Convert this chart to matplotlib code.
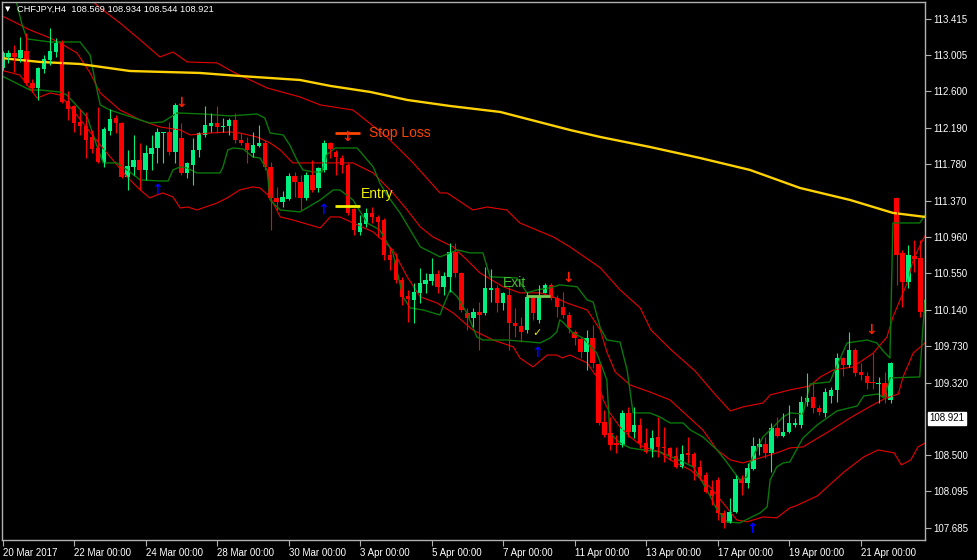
import matplotlib
matplotlib.use("Agg")
import matplotlib.pyplot as plt
from matplotlib.transforms import blended_transform_factory

# CHFJPY H4 candles, bar 0 = 20 Mar 2017 00:00
opens = [112.863, 112.987, 113.032, 112.976, 113.055, 112.694, 112.638, 112.852, 112.953, 113.043,
         113.156, 112.492, 112.435, 112.255, 112.210, 112.086, 111.962, 111.805, 112.154, 112.300,
         112.244, 111.636, 111.749, 111.828, 111.715, 111.895, 111.962, 112.131, 112.143, 111.917,
         112.075, 111.681, 111.771, 111.940, 112.109, 112.210, 112.244, 112.199, 112.210, 112.278,
         112.053, 112.019, 111.906, 111.985, 112.019, 111.749, 111.400, 111.354, 111.389, 111.647,
         111.580, 111.400, 111.659, 111.512, 111.715, 112.019, 111.917, 111.850, 111.771, 111.276,
         111.017, 111.107, 111.231, 111.186, 111.152, 110.759, 110.703, 110.478, 110.298, 110.251,
         110.331, 110.433, 110.466, 110.545, 110.399, 110.511, 110.792, 110.556, 110.105, 110.048,
         110.116, 110.105, 110.365, 110.388, 110.217, 110.309, 109.992, 109.958, 109.913, 110.286,
         110.026, 110.331, 110.421, 110.275, 110.172, 110.082, 109.891, 109.812, 109.666, 109.823,
         109.530, 108.877, 108.754, 108.641, 108.619, 108.979, 108.765, 108.844, 108.641, 108.562,
         108.709, 108.596, 108.585, 108.495, 108.371, 108.529, 108.517, 108.371, 108.281, 108.112,
         108.224, 107.853, 107.740, 107.864, 108.236, 108.191, 108.348, 108.596, 108.630, 108.529,
         108.810, 108.720, 108.765, 108.844, 108.844, 109.102, 109.159, 109.035, 108.979, 109.170,
         109.238, 109.598, 109.519, 109.688, 109.440, 109.395, 109.328, 109.305, 109.316, 109.125,
         111.400, 110.781, 110.455, 110.747, 110.725, 110.105]
highs = [113.055, 113.066, 113.122, 113.212, 113.257, 112.739, 112.875, 113.010, 113.314, 113.201,
         113.179, 112.604, 112.447, 112.402, 112.368, 112.165, 112.424, 112.199, 112.402, 112.334,
         112.255, 111.940, 112.109, 112.019, 111.996, 112.109, 112.188, 112.143, 112.255, 112.469,
         112.244, 111.805, 112.075, 112.143, 112.435, 112.357, 112.435, 112.300, 112.300, 112.357,
         112.131, 112.086, 112.143, 112.221, 112.053, 111.805, 111.524, 111.479, 111.681, 111.692,
         111.659, 111.692, 111.828, 111.749, 112.053, 112.030, 111.940, 111.884, 111.794, 111.287,
         111.208, 111.287, 111.298, 111.208, 111.174, 110.849, 110.781, 110.511, 110.365, 110.444,
         110.613, 110.556, 110.725, 110.590, 110.568, 110.893, 110.893, 110.568, 110.161, 110.161,
         110.228, 110.624, 110.602, 110.421, 110.343, 110.399, 110.161, 110.060, 110.343, 110.309,
         110.421, 110.444, 110.444, 110.309, 110.343, 110.116, 109.913, 109.834, 109.913, 109.970,
         109.542, 109.012, 108.934, 108.731, 109.012, 109.046, 109.046, 108.922, 108.810, 108.787,
         108.934, 108.821, 108.596, 108.596, 108.619, 108.709, 108.540, 108.450, 108.315, 108.224,
         108.258, 107.887, 108.022, 108.281, 108.281, 108.416, 108.709, 108.697, 108.709, 108.866,
         108.934, 108.979, 109.069, 108.922, 109.170, 109.429, 109.328, 109.069, 109.260, 109.271,
         109.654, 109.609, 109.891, 109.711, 109.542, 109.440, 109.654, 109.384, 109.440, 109.553,
         111.411, 110.815, 110.871, 110.927, 110.927, 110.331]
lows = [112.841, 112.920, 112.818, 112.931, 112.672, 112.593, 112.503, 112.807, 112.897, 112.987,
        112.469, 112.278, 112.143, 112.109, 111.850, 111.906, 111.794, 111.749, 112.109, 112.131,
        111.625, 111.490, 111.659, 111.490, 111.602, 111.715, 111.794, 111.794, 111.884, 111.794,
        111.659, 111.625, 111.546, 111.861, 112.086, 112.143, 112.131, 112.143, 112.109, 112.019,
        111.996, 111.794, 111.861, 111.974, 111.715, 111.039, 111.264, 111.298, 111.377, 111.411,
        111.264, 111.377, 111.467, 111.467, 111.692, 111.850, 111.659, 111.681, 111.208, 110.983,
        110.983, 111.073, 111.118, 110.961, 110.703, 110.590, 110.444, 110.195, 110.003, 109.992,
        110.217, 110.331, 110.421, 110.331, 110.309, 110.343, 110.511, 110.116, 109.913, 109.947,
        109.688, 110.082, 110.228, 110.116, 110.138, 109.688, 109.834, 109.778, 109.879, 110.026,
        109.992, 110.331, 110.251, 110.060, 110.048, 109.879, 109.744, 109.598, 109.463, 109.485,
        108.844, 108.709, 108.562, 108.529, 108.596, 108.709, 108.697, 108.585, 108.529, 108.484,
        108.484, 108.427, 108.450, 108.360, 108.360, 108.416, 108.224, 108.224, 108.078, 107.943,
        107.774, 107.684, 107.740, 107.853, 108.056, 108.134, 108.337, 108.506, 108.472, 108.315,
        108.709, 108.709, 108.754, 108.821, 108.810, 109.057, 108.979, 108.956, 108.934, 109.091,
        109.102, 109.395, 109.497, 109.395, 109.350, 109.249, 109.249, 109.091, 109.091, 109.091,
        110.421, 110.172, 110.388, 110.568, 110.060, 110.048]
closes = [113.032, 113.032, 112.987, 113.066, 112.694, 112.638, 112.863, 112.965, 113.055, 113.145,
          112.480, 112.402, 112.244, 112.210, 112.053, 111.951, 111.805, 112.176, 112.289, 112.244,
          111.636, 111.760, 111.828, 111.715, 111.906, 111.962, 112.143, 112.143, 111.917, 112.447,
          111.681, 111.794, 111.940, 112.131, 112.221, 112.244, 112.199, 112.210, 112.278, 112.053,
          112.019, 111.940, 111.996, 112.019, 111.749, 111.400, 111.354, 111.411, 111.647, 111.580,
          111.400, 111.659, 111.490, 111.737, 112.019, 111.951, 111.861, 111.771, 111.231, 111.039,
          111.118, 111.231, 111.186, 111.129, 110.759, 110.703, 110.478, 110.286, 110.264, 110.343,
          110.444, 110.478, 110.545, 110.399, 110.523, 110.792, 110.556, 110.138, 110.048, 110.116,
          110.082, 110.388, 110.388, 110.217, 110.331, 109.992, 109.958, 109.891, 110.286, 110.105,
          110.286, 110.421, 110.275, 110.172, 110.082, 109.936, 109.823, 109.666, 109.823, 109.542,
          108.866, 108.731, 108.619, 108.619, 108.979, 108.765, 108.844, 108.641, 108.540, 108.697,
          108.596, 108.585, 108.495, 108.371, 108.517, 108.506, 108.371, 108.270, 108.089, 108.044,
          107.853, 107.740, 107.864, 108.236, 108.191, 108.360, 108.607, 108.630, 108.529, 108.810,
          108.720, 108.765, 108.866, 108.866, 109.102, 109.148, 109.035, 108.990, 109.215, 109.238,
          109.598, 109.519, 109.688, 109.429, 109.406, 109.316, 109.316, 109.316, 109.159, 109.542,
          110.759, 110.455, 110.759, 110.714, 110.116, 110.251]

# indicator lines, read as (bar, price) vertices
ma_x = [-0.4, 6.3, 13.0, 21.4, 33.1, 39.8, 49.9, 55.0, 61.7, 67.9, 75.1, 83.5, 95.2, 100.3,
        108.6, 117.0, 125.4, 133.8, 142.2, 149.4, 154.8]
ma_y = [112.976, 112.931, 112.908, 112.829, 112.807, 112.773, 112.728, 112.661, 112.593, 112.503,
        112.435, 112.368, 112.165, 112.086, 111.974, 111.850, 111.715, 111.512, 111.377, 111.231, 111.186]

up_x = [14.3, 16.4, 19.7, 23.1, 26.4, 28.6, 31.0, 36.0, 38.7, 44.4, 49.9, 53.3, 58.8, 64.5, 68.9,
        73.4, 74.6, 78.9, 81.3, 84.6, 86.8, 92.4, 95.2, 100.3, 103.6, 107.0, 108.8, 112.2, 116.2,
        119.5, 122.1, 124.2, 127.6, 128.8, 132.1, 135.5, 137.2, 139.4, 142.7, 146.1, 148.4, 149.4,
        151.8, 152.8, 154.4, 154.8]
up_y = [113.663, 113.539, 113.370, 113.179, 112.987, 113.043, 112.931, 112.920, 112.818, 112.638,
        112.537, 112.447, 112.390, 112.086, 111.794, 111.456, 111.456, 111.264, 111.298, 111.264,
        111.118, 110.961, 110.849, 110.613, 110.365, 110.161, 109.913, 109.688, 109.451, 109.192,
        109.001, 109.046, 109.091, 109.181, 109.238, 109.283, 109.384, 109.463, 109.497, 109.654,
        109.834, 110.060, 110.444, 110.703, 110.927, 110.972]

mid_x = [-0.4, 1.3, 4.6, 8.0, 10.2, 12.5, 14.7, 16.4, 19.7, 23.1, 26.4, 29.8, 31.5, 34.8, 38.2,
         39.8, 42.7, 44.9, 46.6, 48.7, 53.3, 58.8, 62.2, 65.5, 67.9, 70.1, 72.2, 75.6, 77.9, 80.1,
         84.0, 86.8, 90.2, 92.4, 94.7, 98.1, 100.3, 101.4, 102.8, 105.3, 108.6, 112.0, 114.2, 117.5,
         119.9, 122.1, 124.2, 127.1, 129.9, 132.1, 134.3, 138.8, 142.2, 145.7, 147.9, 150.3, 151.1,
         152.8, 154.8]
mid_y = [113.460, 113.404, 113.291, 113.201, 113.122, 113.032, 112.807, 112.582, 112.390, 112.278,
         112.199, 112.165, 112.109, 112.131, 112.143, 112.131, 112.086, 112.019, 111.940, 111.794,
         111.794, 111.794, 111.681, 111.456, 111.264, 111.073, 110.961, 110.849, 110.703, 110.556,
         110.399, 110.331, 110.331, 110.286, 110.217, 110.138, 109.913, 109.666, 109.440, 109.294,
         109.215, 109.125, 108.990, 108.787, 108.562, 108.450, 108.416, 108.472, 108.529, 108.585,
         108.596, 108.776, 108.922, 109.057, 109.136, 109.192, 109.384, 109.654, 109.767]

lo_x = [-0.4, 2.9, 5.8, 8.0, 9.6, 10.8, 13.5, 16.4, 20.9, 23.1, 24.7, 25.9, 26.9, 28.6, 29.8,
        31.1, 32.6, 36.0, 37.7, 39.8, 42.0, 43.2, 44.9, 46.6, 48.7, 53.3, 55.0, 56.6, 58.8, 62.2,
        65.5, 67.9, 70.1, 72.9, 75.6, 78.9, 82.3, 85.7, 86.8, 89.0, 91.4, 93.0, 93.9, 95.2, 98.1,
        99.7, 100.8, 101.9, 103.6, 105.3, 107.5, 110.3, 112.0, 115.4, 118.7, 120.9, 123.2, 124.9,
        127.6, 129.9, 132.1, 133.1, 136.7, 141.2, 144.5, 146.9, 149.6, 150.8, 152.4, 153.6, 154.8]
lo_y = [112.841, 112.784, 112.525, 112.582, 112.559, 112.469, 112.244, 111.996, 111.636, 111.490,
        111.400, 111.433, 111.456, 111.411, 111.287, 111.298, 111.264, 111.343, 111.400, 111.490,
        111.524, 111.512, 111.411, 111.186, 111.152, 111.062, 111.186, 111.186, 111.118, 111.017,
        110.815, 110.511, 110.286, 110.217, 110.105, 109.913, 109.800, 109.723, 109.598, 109.497,
        109.631, 109.631, 109.598, 109.631, 109.542, 109.384, 109.125, 108.979, 108.821, 108.709,
        108.596, 108.540, 108.450, 108.337, 108.145, 107.965, 107.774, 107.752, 107.808, 107.797,
        107.910, 107.932, 108.044, 108.315, 108.484, 108.562, 108.529, 108.393, 108.450, 108.596,
        108.641]

gu_x = [2.1, 3.3, 4.1, 8.0, 13.0, 14.7, 15.5, 16.4, 18.0, 23.1, 24.7, 26.9, 29.3, 33.6, 38.2,
        42.7, 44.0, 44.9, 47.1, 48.2, 49.4, 50.4, 52.1, 53.6, 54.4, 55.8, 59.5, 61.2, 62.2, 63.3,
        64.5, 66.7, 70.1, 73.4, 75.1, 76.3, 78.4, 80.6, 81.8, 86.3, 88.0, 89.7, 91.9, 93.5, 96.4,
        98.1, 99.1, 100.3, 101.4, 103.6, 104.8, 105.8, 108.6, 110.3, 112.0, 114.2, 115.4, 117.5,
        119.9, 121.6, 123.7, 124.9, 125.4, 127.6, 128.8, 131.0, 132.1, 134.3, 135.5, 138.8, 141.7,
        145.1, 146.7, 147.9, 148.9, 149.4, 153.9, 154.8]
gu_y = [113.663, 113.348, 113.190, 113.156, 113.156, 113.010, 112.728, 112.447, 112.390, 112.278,
        112.244, 112.255, 112.357, 112.345, 112.323, 112.345, 112.300, 112.131, 112.109, 111.996,
        111.828, 111.715, 111.692, 111.692, 111.884, 111.962, 111.962, 111.828, 111.749, 111.568,
        111.433, 111.231, 110.849, 110.736, 110.781, 110.815, 110.781, 110.781, 110.511, 110.499,
        110.331, 110.365, 110.388, 110.421, 110.399, 110.251, 110.228, 109.936, 109.800, 109.778,
        109.463, 108.979, 108.979, 108.934, 108.866, 108.866, 108.787, 108.709, 108.562, 108.416,
        108.224, 108.258, 108.416, 108.709, 108.787, 108.934, 108.979, 108.967, 109.305, 109.328,
        109.767, 109.800, 109.767, 109.666, 109.598, 111.118, 111.118, 111.208]

gl_x = [-0.4, 4.6, 6.3, 9.6, 10.8, 14.2, 15.9, 16.9, 19.2, 20.9, 23.1, 26.4, 27.8, 28.6, 29.8,
        31.0, 32.6, 36.5, 37.0, 37.8, 38.7, 40.4, 42.0, 43.2, 44.4, 44.9, 46.6, 49.9, 53.3, 55.5,
        56.6, 58.8, 61.2, 63.3, 65.5, 67.2, 68.4, 70.6, 73.4, 73.9, 75.1, 76.3, 77.9, 79.6, 80.6,
        84.6, 88.5, 90.2, 91.9, 93.0, 93.5, 94.0, 95.7, 97.4, 99.7, 101.4, 101.9, 103.6, 105.3,
        107.5, 110.3, 114.2, 115.9, 118.2, 119.9, 121.6, 123.7, 125.4, 127.1, 128.3, 128.8, 129.9,
        131.0, 132.1, 134.3, 136.7, 140.0, 143.4, 144.5, 146.9, 147.9, 148.9, 153.9, 154.4, 154.8]
gl_y = [112.784, 112.615, 112.615, 112.593, 112.559, 112.311, 111.974, 111.794, 111.794, 111.715,
        111.602, 111.591, 111.591, 111.715, 111.749, 111.737, 111.681, 111.681, 111.749, 111.940,
        111.962, 111.951, 111.861, 111.850, 111.715, 111.377, 111.264, 111.242, 111.377, 111.490,
        111.490, 111.377, 111.118, 111.039, 110.781, 110.286, 110.161, 110.138, 110.082, 110.172,
        110.365, 110.286, 110.105, 109.834, 109.800, 109.800, 109.778, 109.767, 109.823, 109.891,
        110.026, 110.003, 109.879, 109.823, 109.654, 109.350, 108.754, 108.641, 108.585, 108.562,
        108.540, 108.427, 108.371, 108.112, 107.887, 107.752, 107.740, 107.797, 107.853, 107.921,
        108.224, 108.371, 108.416, 108.427, 108.697, 108.844, 109.001, 109.057, 109.170, 109.192,
        109.148, 109.373, 109.384, 109.913, 110.251]

# signal arrows and trade marks
buy_x = [25.9, 53.8, 89.7, 125.8]
buy_y = [111.490, 111.264, 109.654, 107.671]
sell_x = [29.9, 57.8, 94.9, 145.7]
sell_y = [112.469, 112.086, 110.499, 109.913]
stop_level, entry_level, exit_level = 112.131, 111.309, 110.298

date_ticks = list(range(0, 145, 12))
date_labels = ["20 Mar 2017", "22 Mar 00:00", "24 Mar 00:00", "28 Mar 00:00", "30 Mar 00:00",
               "3 Apr 00:00", "5 Apr 00:00", "7 Apr 00:00", "11 Apr 00:00", "13 Apr 00:00",
               "17 Apr 00:00", "19 Apr 00:00", "21 Apr 00:00"]
price_ticks = [113.415, 113.005, 112.600, 112.190, 111.780, 111.370, 110.960, 110.550,
               110.140, 109.730, 109.320, 108.500, 108.095, 107.685]
last_price = 108.921

plt.rcParams['font.family'] = ['Liberation Sans', 'DejaVu Sans']
fig = plt.figure(figsize=(9.77, 5.6), dpi=100, facecolor='black')
ax = fig.add_axes([2 / 977, 20 / 560, 923 / 977, 538 / 560])
ax.set_facecolor('black')

bull, bear = '#00F080', '#FF0000'
# bands
ax.plot(up_x, up_y, color='#E80000', lw=0.8)
ax.plot(mid_x, mid_y, color='#E80000', lw=0.8)
ax.plot(lo_x, lo_y, color='#E80000', lw=0.8)
ax.plot(gu_x, gu_y, color='#0A780A', lw=1.0)
ax.plot(gl_x, gl_y, color='#0A780A', lw=1.0)
ax.plot(ma_x, ma_y, color='#FFD200', lw=1.7)

# candles
for i in range(len(opens)):
    o, h, l, c = opens[i], highs[i], lows[i], closes[i]
    col = bull if c >= o else bear
    ax.vlines(i, l, h, color=col, lw=0.8)
    ax.bar(i, max(abs(c - o), 0.008), bottom=min(o, c), width=0.74, color=col, lw=0)

for x, y in zip(buy_x, buy_y):
    ax.text(x, y, '↑', color='#0000FF', fontsize=10, fontweight='bold', ha='center', va='center',
            family='DejaVu Sans')
for x, y in zip(sell_x, sell_y):
    ax.text(x, y, '↓', color='#FF2000', fontsize=10, fontweight='bold', ha='center', va='center',
            family='DejaVu Sans')

ax.hlines(stop_level, 55.8, 60.0, color='#FF4500', lw=2)
ax.text(61.5, stop_level, 'Stop Loss', color='#FF4500', fontsize=10, va='center')
ax.hlines(entry_level, 55.8, 60.0, color='#F0F000', lw=2)
ax.text(60.2, 111.445, 'Entry', color='#F0F000', fontsize=10, va='center')
ax.hlines(exit_level, 87.8, 91.9, color='#77CC55', lw=2)
ax.text(84.0, 110.444, 'Exit', color='#44BB33', fontsize=10, va='center')
ax.text(89.7, 109.879, '✓', color='#E8E800', fontsize=8, ha='center', va='center',
        family='DejaVu Sans')

ax.set_xlim(-0.084, 154.78)
ax.set_ylim(107.548, 113.606)

for s in ax.spines.values():
    s.set_color('#B0B0B0')
    s.set_linewidth(1)

ax.yaxis.tick_right()
ax.set_yticks(price_ticks)
ax.set_yticklabels([f'{p:.3f}' for p in price_ticks])
ax.set_xticks(date_ticks)
ax.set_xticklabels(date_labels)
ax.tick_params(axis='both', colors='#B0B0B0', labelcolor='white', labelsize=7, length=4, pad=2)
for lab in ax.get_xticklabels():
    lab.set_horizontalalignment('left')

tr = blended_transform_factory(ax.transAxes, ax.transData)
ax.text(1.005, last_price, f'{last_price:.3f}', transform=tr, fontsize=7, color='black',
        va='center', ha='left', clip_on=False,
        bbox=dict(boxstyle='square,pad=0.15', facecolor='white', edgecolor='white'))

fig.text(5 / 977, 1 - 9 / 560, '▼', color='white', fontsize=5, va='center', family='DejaVu Sans')
fig.text(17 / 977, 1 - 9 / 560, 'CHFJPY,H4  108.569 108.934 108.544 108.921', color='white',
         fontsize=6.7, va='center')

fig.savefig('out.png', dpi=100, facecolor='black')
